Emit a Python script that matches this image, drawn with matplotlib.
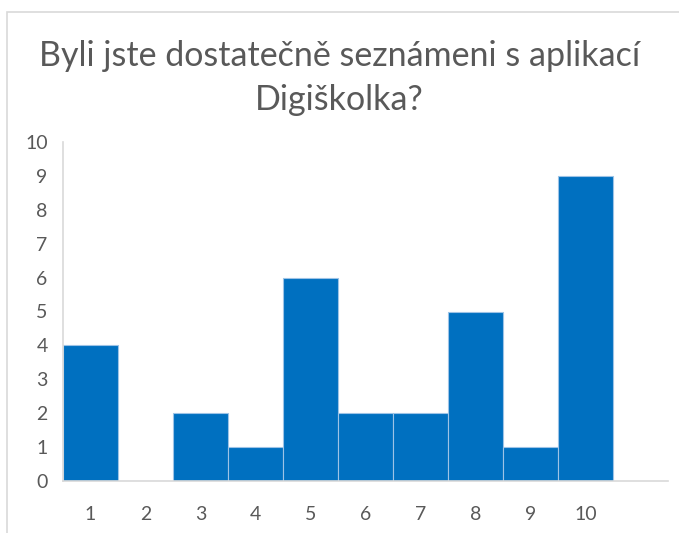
import numpy as np
import matplotlib.pyplot as plt
from matplotlib.patches import Rectangle

plt.rcParams['font.family'] = ['Lato', 'DejaVu Sans']

# data
categories = ['1', '2', '3', '4', '5', '6', '7', '8', '9', '10']
counts = [4, 0, 2, 1, 6, 2, 2, 5, 1, 9]
title = 'Byli jste dostatečně seznámeni s aplikací\nDigiškolka?'

W, H = 679, 533
fig = plt.figure(figsize=(W / 100, H / 100), dpi=100)

# chart border
fig.patches.append(Rectangle((7 / W, -0.1), 1.2, (H - 12) / H + 0.1,
                             transform=fig.transFigure, fill=False,
                             edgecolor='#d9d9d9', lw=1.2))

ax = fig.add_axes([63 / W, (H - 481) / H, (668 - 63) / W, (481 - 142) / H])

x = np.arange(1, len(categories) + 1)
ax.bar(x, counts, width=1.0, color='#0070c0', edgecolor='#9dc3e6', linewidth=0.8)

ax.set_xlim(0.5, len(categories) + 1.5)
ax.set_ylim(0, 10)
ax.set_xticks(x)
ax.set_xticklabels(categories)
ax.set_yticks(range(0, 11))

for s in ['top', 'right']:
    ax.spines[s].set_visible(False)
ax.spines['left'].set_color('#d9d9d9')
ax.spines['bottom'].set_color('#d9d9d9')
ax.spines['left'].set_linewidth(1.2)
ax.spines['bottom'].set_linewidth(1.2)

ax.tick_params(axis='both', length=0, labelsize=14, labelcolor='#595959')
ax.tick_params(axis='x', pad=18)
ax.tick_params(axis='y', pad=11)

fig.text(0.5, (H - 78) / H, title, ha='center', va='center',
         fontsize=24.5, color='#595959', linespacing=1.45)

fig.savefig('out.png', dpi=100)
